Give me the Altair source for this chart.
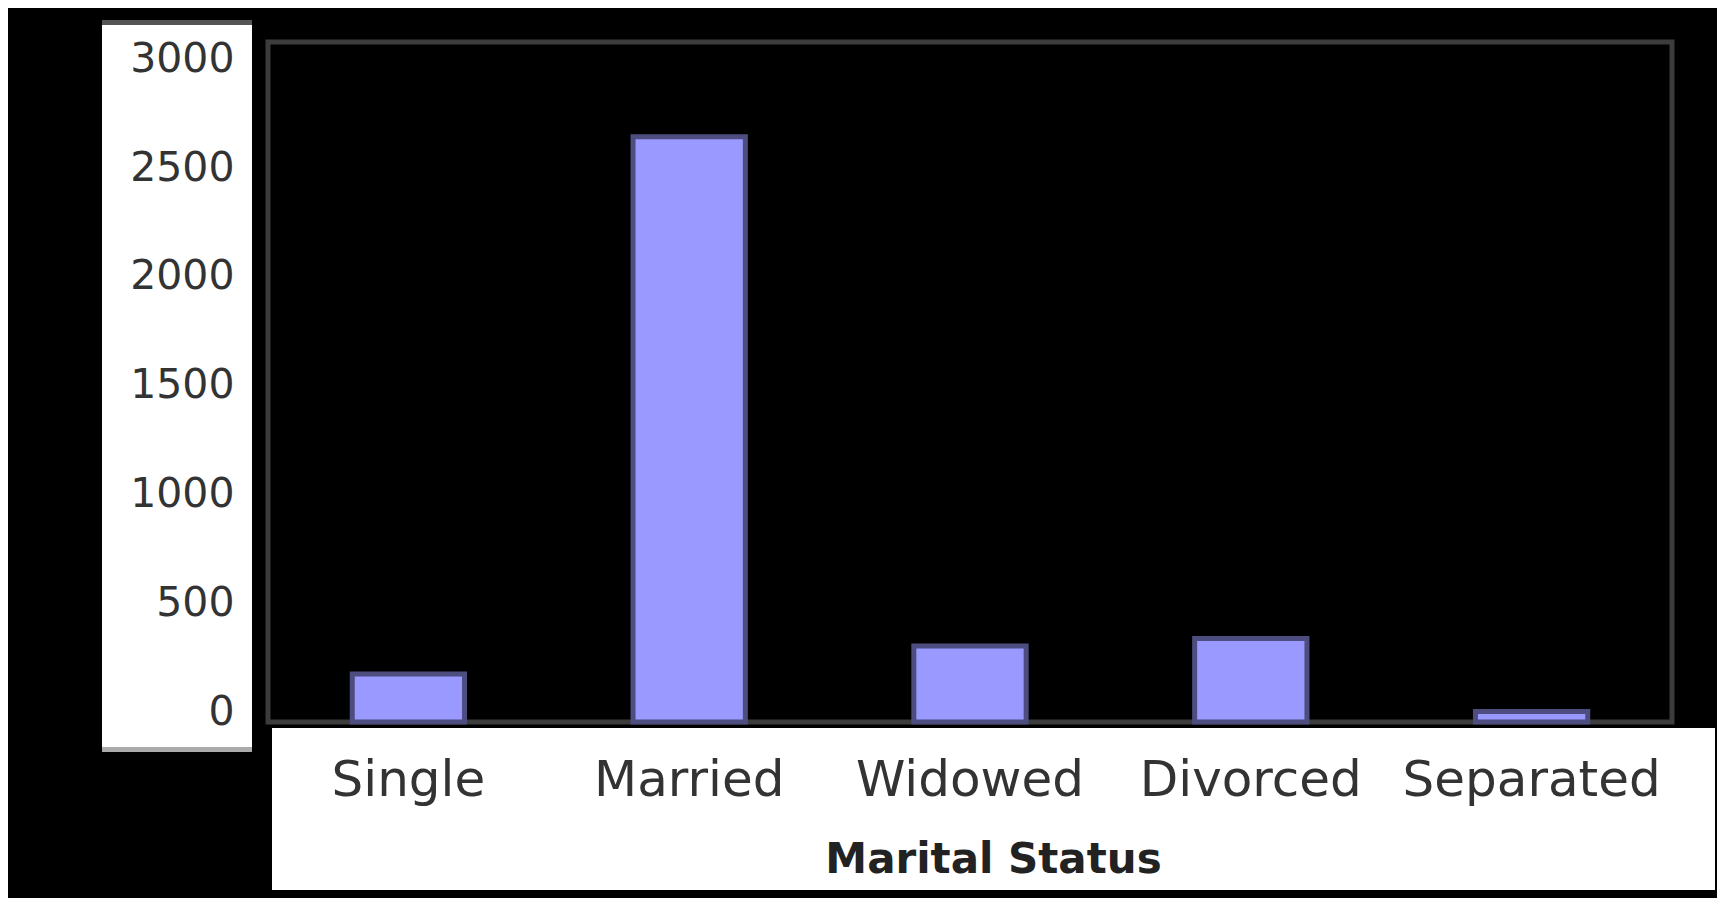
import altair as alt
import pandas as pd

# Data
categories = ["Single", "Married", "Widowed", "Divorced", "Separated"]
counts = [221, 2690, 349, 384, 48]
y_ticks = [0, 500, 1000, 1500, 2000, 2500, 3000]

df = pd.DataFrame({"status": categories, "count": counts})
one = pd.DataFrame({"k": [0]})

# decorative white panels behind the axis labels
ybox = alt.Chart(one).mark_rect(color="white").encode(
    x=alt.value(-166), x2=alt.value(-16), y=alt.value(-22), y2=alt.value(705)
)
ybox_top = alt.Chart(one).mark_rect(color="#555555").encode(
    x=alt.value(-166), x2=alt.value(-16), y=alt.value(-22), y2=alt.value(-17)
)
ybox_bot = alt.Chart(one).mark_rect(color="#aaaaaa").encode(
    x=alt.value(-166), x2=alt.value(-16), y=alt.value(705), y2=alt.value(710)
)
xbox = alt.Chart(one).mark_rect(color="white").encode(
    x=alt.value(4), x2=alt.value(1447), y=alt.value(686), y2=alt.value(848)
)

bars = alt.Chart(df).mark_bar(
    color="#9999FF", stroke="#4d4d80", strokeWidth=5
).encode(
    x=alt.X(
        "status:N",
        sort=categories,
        scale=alt.Scale(paddingInner=0.6, paddingOuter=0.3),
        title="Marital Status",
        axis=alt.Axis(
            labelAngle=0,
            labelFont="DejaVu Sans",
            labelFontSize=50,
            labelColor="#333333",
            labelBaseline="alphabetic",
            labelPadding=73,
            labelLimit=0,
            ticks=False,
            tickSize=0,
            domain=False,
            titleFont="DejaVu Sans",
            titleFontSize=42,
            titleFontWeight="bold",
            titleColor="#222222",
            titleX=725,
            titleY=150,
            titleBaseline="alphabetic",
            zindex=1,
        ),
    ),
    y=alt.Y(
        "count:Q",
        scale=alt.Scale(domain=[0, 3126], nice=False, zero=True),
        title=None,
        axis=alt.Axis(
            values=y_ticks,
            format="d",
            grid=False,
            ticks=False,
            tickSize=0,
            domain=False,
            labelFont="DejaVu Sans",
            labelFontSize=41,
            labelColor="#333333",
            labelPadding=34,
            labelOffset=-10,
            labelBaseline="middle",
            labelLimit=0,
            zindex=1,
        ),
    ),
)

chart = alt.layer(ybox, ybox_top, ybox_bot, xbox, bars).properties(
    width=1404,
    height=680,
    autosize=alt.AutoSizeParams(type="none"),
    padding={"left": 260, "top": 34, "right": 45, "bottom": 176},
).configure(
    background="black"
).configure_view(
    fill="black", stroke="#3c3c3c", strokeWidth=5
)

chart.save("out.html", embed_options={"renderer": "svg", "actions": False})
